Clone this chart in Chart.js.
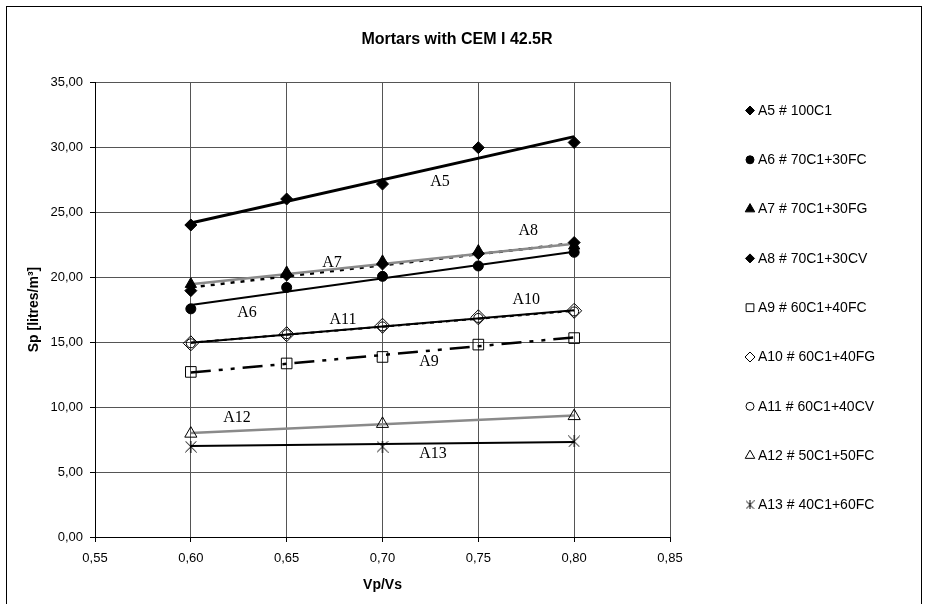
<!DOCTYPE html>
<html><head><meta charset="utf-8">
<script src="https://cdn.jsdelivr.net/npm/chart.js@4"></script>
<style>html,body{margin:0;padding:0;background:#fff}canvas{display:block}</style>
</head><body>
<canvas id="c" width="929" height="604"></canvas>
<script>
// ---------------- data ----------------
const chartTitle = 'Mortars with CEM I 42.5R';
const xAxisTitle = 'Vp/Vs';
const yAxisTitle = 'Sp [litres/m\u00B3]';

const seriesNames = ['A5 # 100C1','A6 # 70C1+30FC','A7 # 70C1+30FG','A8 # 70C1+30CV','A9 # 60C1+40FC',
                     'A10 # 60C1+40FG','A11 # 60C1+40CV','A12 # 50C1+50FC','A13 # 40C1+60FC'];

const xValues = [0.60, 0.65, 0.70, 0.75, 0.80];
const xValuesShort = [0.60, 0.70, 0.80];

const A5  = [24.0, 26.0, 27.15, 29.95, 30.35];
const A6  = [17.55, 19.2, 20.05, 20.85, 21.9];
const A7  = [19.45, 20.35, 21.2, 22.0, 22.4];
const A8  = [18.95, 20.15, 21.0, 21.8, 22.65];
const A9  = [12.7, 13.35, 13.85, 14.8, 15.3];
const A10 = [14.9, 15.6, 16.25, 16.9, 17.4];
const A11 = [14.9, 15.6, 16.2, 16.85, 17.35];
const A12 = [7.95, 8.7, 9.3];
const A13 = [6.95, 6.95, 7.35];

// trend line end values (at Vp/Vs = 0.60 and 0.80)
const trendX = [0.60, 0.80];
const trendA5  = [24.15, 30.8];
const trendA6  = [17.85, 21.95];
const trendA7  = [19.45, 22.55];
const trendA8  = [19.2, 22.6];
const trendA9  = [12.65, 15.35];
const trendA10 = [14.95, 17.45];
const trendA11 = [14.95, 17.4];
const trendA12 = [8.0, 9.35];
const trendA13 = [7.0, 7.3];

const xTickValues = [0.55, 0.60, 0.65, 0.70, 0.75, 0.80, 0.85];
const xTickLabels = ['0,55','0,60','0,65','0,70','0,75','0,80','0,85'];
const yTickValues = [0, 5, 10, 15, 20, 25, 30, 35];
const yTickLabels = ['0,00','5,00','10,00','15,00','20,00','25,00','30,00','35,00'];

const curveLabels = ['A5','A8','A10','A7','A6','A11','A9','A12','A13'];
const curveLabelX = [0.730, 0.776, 0.775, 0.6737, 0.6293, 0.6794, 0.7243, 0.6241, 0.7263];
const curveLabelY = [27.31, 23.54, 18.23, 21.08, 17.23, 16.69, 13.46, 9.15, 6.38];

// ---------------- styles ----------------
const SANS = '"Liberation Sans", Arial, sans-serif';
const SERIF = '"Liberation Serif", "Times New Roman", serif';

function makeAsterisk(size) {
  const c = document.createElement('canvas');
  c.width = size; c.height = size;
  const g = c.getContext('2d');
  g.strokeStyle = '#000'; g.lineWidth = 1;
  g.beginPath();
  g.moveTo(0.5, 0.5); g.lineTo(size - 0.5, size - 0.5);
  g.moveTo(size - 0.5, 0.5); g.lineTo(0.5, size - 0.5);
  g.moveTo(size / 2, 0); g.lineTo(size / 2, size);
  g.stroke();
  return c;
}
const asteriskBig = makeAsterisk(12);
const asteriskSmall = makeAsterisk(9);

const markerStyles = [
  {style:'rectRot', r:6, fill:'#000', lr:4.5},
  {style:'circle', r:5, fill:'#000', lr:4},
  {style:'triangle', r:6.5, fill:'#000', lr:5.5},
  {style:'rectRot', r:6, fill:'#000', lr:4.5},
  {style:'rect', r:7.5, fill:'rgba(0,0,0,0)', lr:5.5},
  {style:'rectRot', r:7.5, fill:'rgba(0,0,0,0)', lr:5},
  {style:'circle', r:4.5, fill:'rgba(0,0,0,0)', lr:4},
  {style:'triangle', r:7, fill:'rgba(0,0,0,0)', lr:5.5},
  {style:asteriskBig, r:6, fill:'#000', lr:4.5, legendImg:asteriskSmall}
];
const lineStyles = [
  {color:'#000', width:3, dash:[]},
  {color:'#000', width:2, dash:[]},
  {color:'#8a8a8a', width:2.5, dash:[]},
  {color:'#000', width:2.5, dash:[4,6]},
  {color:'#000', width:2.5, dash:[20,8,4,8,4,8]},
  {color:'#000', width:2, dash:[]},
  {color:'#000', width:2, dash:[4,4]},
  {color:'#8a8a8a', width:2.5, dash:[]},
  {color:'#000', width:2, dash:[]}
];

const seriesY = [A5, A6, A7, A8, A9, A10, A11, A12, A13];
const seriesX = [xValues, xValues, xValues, xValues, xValues, xValues, xValues, xValuesShort, xValuesShort];
const trends = [trendA5, trendA6, trendA7, trendA8, trendA9, trendA10, trendA11, trendA12, trendA13];

const datasets = [];
seriesY.forEach((ys, i) => {
  const m = markerStyles[i];
  datasets.push({
    label: seriesNames[i],
    data: ys.map((y, k) => ({x: seriesX[i][k], y})),
    showLine: false,
    pointStyle: m.style,
    pointRadius: m.r,
    pointHoverRadius: m.r,
    pointBackgroundColor: m.fill,
    pointBorderColor: '#000',
    pointBorderWidth: 1
  });
});
trends.forEach((t, i) => {
  const l = lineStyles[i];
  datasets.push({
    label: 'trend ' + seriesNames[i],
    data: t.map((y, k) => ({x: trendX[k], y})),
    showLine: true,
    pointRadius: 0,
    borderColor: l.color,
    borderWidth: l.width,
    borderDash: l.dash,
    borderCapStyle: 'butt',
    fill: false,
    tension: 0
  });
});

const decor = {
  id: 'decor',
  beforeDraw(chart) {
    const ctx = chart.ctx;
    ctx.save();
    ctx.fillStyle = '#fff';
    ctx.fillRect(0, 0, chart.width, chart.height);
    ctx.strokeStyle = '#000';
    ctx.lineWidth = 1;
    ctx.strokeRect(6.5, 6.5, 915, 640);
    ctx.restore();
  },
  afterDatasetsDraw(chart) {
    const ctx = chart.ctx;
    const xs = chart.scales.x, ys = chart.scales.y;
    ctx.save();
    ctx.fillStyle = '#000';
    ctx.font = '16px ' + SERIF;
    ctx.textAlign = 'center';
    ctx.textBaseline = 'middle';
    curveLabels.forEach((t, i) => {
      ctx.fillText(t, xs.getPixelForValue(curveLabelX[i]), ys.getPixelForValue(curveLabelY[i]));
    });
    ctx.restore();
  },
  afterDraw(chart) {
    const ctx = chart.ctx;
    ctx.save();
    ctx.fillStyle = '#000';
    ctx.font = 'bold 16px ' + SANS;
    ctx.textAlign = 'center';
    ctx.textBaseline = 'middle';
    ctx.fillText(chartTitle, 457, 40);
    // legend
    ctx.font = '14px ' + SANS;
    ctx.textAlign = 'left';
    seriesNames.forEach((name, i) => {
      const m = markerStyles[i];
      const y = 110.5 + i * 49.3;
      const x = 750;
      ctx.fillStyle = m.fill;
      ctx.strokeStyle = '#000';
      ctx.lineWidth = 1;
      Chart.helpers.drawPoint(ctx, {pointStyle: m.legendImg || m.style, radius: m.lr, rotation: 0, borderWidth: 1}, x, y);
      ctx.fillStyle = '#000';
      ctx.fillText(name, 758, y + 0.5);
    });
    ctx.restore();
  }
};

new Chart(document.getElementById('c'), {
  type: 'scatter',
  data: {datasets},
  options: {
    responsive: false,
    devicePixelRatio: 1,
    animation: false,
    events: [],
    layout: {padding: {left: 0, top: 82, right: 259, bottom: 0}},
    plugins: {legend: {display: false}, tooltip: {enabled: false}, title: {display: false}},
    scales: {
      x: {
        type: 'linear', min: 0.55, max: 0.85,
        afterBuildTicks: (s) => { s.ticks = xTickValues.map(v => ({value: v})); },
        afterFit: (s) => { s.height = 67; },
        ticks: {
          callback: (v, i) => xTickLabels[i],
          font: {family: SANS, size: 13}, color: '#000', padding: 9, maxRotation: 0, autoSkip: false
        },
        grid: {color: '#555', lineWidth: 1, tickLength: 5, tickColor: '#000'},
        border: {color: '#000', width: 1},
        title: {display: true, text: xAxisTitle, color: '#000', font: {family: SANS, size: 14, weight: 'bold'}, padding: {top: 0, bottom: 10}}
      },
      y: {
        type: 'linear', min: 0, max: 35,
        afterBuildTicks: (s) => { s.ticks = yTickValues.map(v => ({value: v})); },
        afterFit: (s) => { s.width = 95; },
        ticks: {
          callback: (v, i) => yTickLabels[i],
          font: {family: SANS, size: 13}, color: '#000', padding: 7, autoSkip: false
        },
        grid: {color: '#555', lineWidth: 1, tickLength: 5, tickColor: '#000'},
        border: {color: '#000', width: 1},
        title: {display: true, text: yAxisTitle, color: '#000', font: {family: SANS, size: 14, weight: 'bold'}, padding: {top: 26, bottom: 0}}
      }
    }
  },
  plugins: [decor]
});
</script>
</body></html>
